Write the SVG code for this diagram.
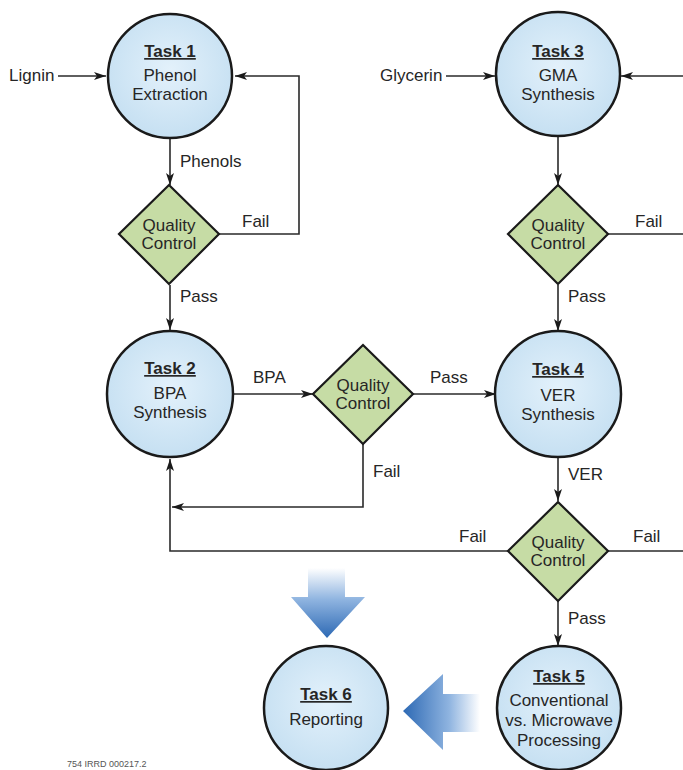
<svg xmlns="http://www.w3.org/2000/svg" width="683" height="770" viewBox="0 0 683 770">
<defs>
<radialGradient id="cfill" cx="50%" cy="45%" r="55%">
<stop offset="0" stop-color="#e3f1fb"/>
<stop offset="1" stop-color="#c6e0f2"/>
</radialGradient>
<linearGradient id="gdown" x1="0" y1="0" x2="0" y2="1">
<stop offset="0" stop-color="#ffffff"/>
<stop offset="0.45" stop-color="#8fb4e0"/>
<stop offset="1" stop-color="#2d69b4"/>
</linearGradient>
<linearGradient id="gleft" x1="1" y1="0" x2="0" y2="0">
<stop offset="0" stop-color="#ffffff"/>
<stop offset="0.4" stop-color="#8fb4e0"/>
<stop offset="1" stop-color="#2d69b4"/>
</linearGradient>
<marker id="ah" viewBox="0 0 12 8" refX="12" refY="4" markerWidth="12" markerHeight="8" markerUnits="userSpaceOnUse" orient="auto">
<path d="M0,0 L12,4 L0,8 L3,4 Z" fill="#1a1a1a"/>
</marker>
</defs>
<style>
.task{fill:url(#cfill);stroke:#1a1a1a;stroke-width:2.5}
.qc{fill:#c6dca5;stroke:#1a1a1a;stroke-width:2.2}
.t{font-family:"Liberation Sans",Arial,sans-serif;font-size:17px;fill:#262626}
.c{text-anchor:middle}
.h{font-weight:bold;text-decoration:underline}
.ln{fill:none;stroke:#2a2a2a;stroke-width:1.6;marker-end:url(#ah)}
.pl{fill:none;stroke:#2a2a2a;stroke-width:1.6}
</style>
<rect width="683" height="770" fill="#ffffff"/>

<g id="big-arrows">
<path d="M308,568 H345 V597 H365 L327,638 L291,597 H308 Z" fill="url(#gdown)"/>
<path d="M480,694 V732 H443 V750 L403,711 L443,674 V694 Z" fill="url(#gleft)"/>
</g>

<g id="connectors">
<line class="ln" x1="58" y1="76" x2="106" y2="76"/>
<line class="ln" x1="170" y1="139" x2="170" y2="185"/>
<path class="ln" d="M219,234 H299 V76 H235"/>
<line class="ln" x1="170" y1="285" x2="170" y2="330"/>
<line class="ln" x1="446" y1="76" x2="495" y2="76"/>
<line class="ln" x1="683" y1="76" x2="621" y2="76"/>
<line class="ln" x1="558" y1="136" x2="558" y2="185"/>
<line class="pl" x1="608" y1="234" x2="683" y2="234"/>
<line class="ln" x1="558" y1="285" x2="558" y2="331"/>
<line class="ln" x1="233" y1="394" x2="313" y2="394"/>
<line class="ln" x1="413" y1="394" x2="496" y2="394"/>
<path class="ln" d="M363,444 V507 H172"/>
<path class="ln" d="M508,551 H170 V459"/>
<line class="pl" x1="608" y1="551" x2="683" y2="551"/>
<line class="ln" x1="558" y1="457" x2="558" y2="501"/>
<line class="ln" x1="558" y1="601" x2="558" y2="646"/>
</g>

<g id="labels">
<text class="t" x="9" y="81">Lignin</text>
<text class="t" x="180" y="167">Phenols</text>
<text class="t" x="242" y="227">Fail</text>
<text class="t" x="180" y="302">Pass</text>
<text class="t" x="380" y="81">Glycerin</text>
<text class="t" x="635" y="227">Fail</text>
<text class="t" x="568" y="302">Pass</text>
<text class="t" x="253" y="383">BPA</text>
<text class="t" x="430" y="383">Pass</text>
<text class="t" x="373" y="477">Fail</text>
<text class="t" x="568" y="480">VER</text>
<text class="t" x="459" y="542">Fail</text>
<text class="t" x="633" y="542">Fail</text>
<text class="t" x="568" y="624">Pass</text>
<text x="67" y="767" style="font-family:'Liberation Sans',Arial,sans-serif;font-size:9px;fill:#555">754 IRRD 000217.2</text>
</g>

<g id="task1">
<circle class="task" cx="170" cy="76" r="62"/>
<text class="t c h" x="170" y="57">Task 1</text>
<text class="t c" x="170" y="81">Phenol</text>
<text class="t c" x="170" y="100">Extraction</text>
</g>
<g id="qc1">
<path class="qc" d="M169,185 L219,234 L169,284 L119,234 Z"/>
<text class="t c" x="169" y="231">Quality</text>
<text class="t c" x="169" y="249">Control</text>
</g>
<g id="task3">
<circle class="task" cx="558" cy="74" r="62"/>
<text class="t c h" x="558" y="57">Task 3</text>
<text class="t c" x="558" y="81">GMA</text>
<text class="t c" x="558" y="100">Synthesis</text>
</g>
<g id="qc2">
<path class="qc" d="M558,185 L608,234 L558,284 L508,234 Z"/>
<text class="t c" x="558" y="231">Quality</text>
<text class="t c" x="558" y="249">Control</text>
</g>
<g id="task2">
<circle class="task" cx="170" cy="394" r="63"/>
<text class="t c h" x="170" y="374">Task 2</text>
<text class="t c" x="170" y="399">BPA</text>
<text class="t c" x="170" y="418">Synthesis</text>
</g>
<g id="qc3">
<path class="qc" d="M363,345 L413,394 L363,444 L313,394 Z"/>
<text class="t c" x="363" y="391">Quality</text>
<text class="t c" x="363" y="409">Control</text>
</g>
<g id="task4">
<circle class="task" cx="558" cy="394" r="63"/>
<text class="t c h" x="558" y="375">Task 4</text>
<text class="t c" x="558" y="401">VER</text>
<text class="t c" x="558" y="420">Synthesis</text>
</g>
<g id="qc4">
<path class="qc" d="M558,502 L608,551 L558,601 L508,551 Z"/>
<text class="t c" x="558" y="548">Quality</text>
<text class="t c" x="558" y="566">Control</text>
</g>
<g id="task5">
<circle class="task" cx="559" cy="708" r="62"/>
<text class="t c h" x="559" y="682">Task 5</text>
<text class="t c" x="559" y="706">Conventional</text>
<text class="t c" x="559" y="726">vs. Microwave</text>
<text class="t c" x="559" y="746">Processing</text>
</g>
<g id="task6">
<circle class="task" cx="326" cy="708" r="62"/>
<text class="t c h" x="326" y="700">Task 6</text>
<text class="t c" x="326" y="725">Reporting</text>
</g>
</svg>
